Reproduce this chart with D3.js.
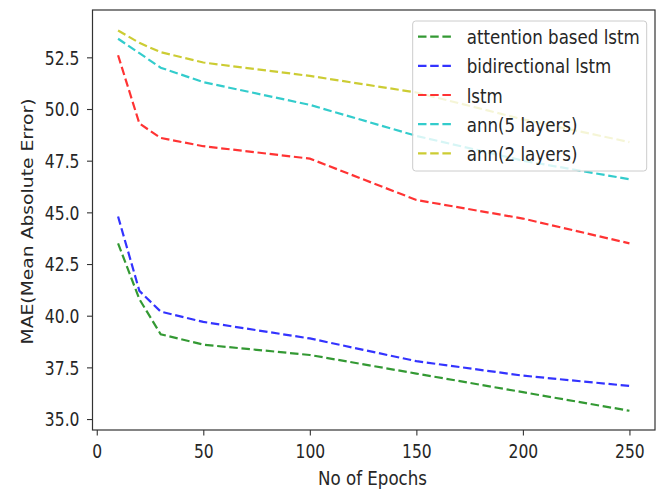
<!DOCTYPE html>
<html><head><meta charset="utf-8">
<script src="https://cdn.jsdelivr.net/npm/d3@7"></script>
<style>body{margin:0;background:#fff}svg{display:block}</style>
</head><body>
<svg id="c" width="665" height="489"></svg>
<script>
const epochs = [10, 20, 30, 50, 100, 150, 200, 250];
const attention = [43.5, 40.8, 39.1, 38.6, 38.1, 37.2, 36.3, 35.4];
const bidirectional = [44.8, 41.2, 40.2, 39.7, 38.9, 37.8, 37.1, 36.6];
const lstm = [52.6, 49.3, 48.6, 48.2, 47.6, 45.6, 44.7, 43.5];
const ann5 = [53.4, 52.7, 52.0, 51.3, 50.2, 48.7, 47.5, 46.6];
const ann2 = [53.8, 53.2, 52.75, 52.25, 51.6, 50.8, 49.5, 48.4];
const seriesNames = ["attention based lstm", "bidirectional lstm", "lstm", "ann(5 layers)", "ann(2 layers)"];
const seriesColors = ["#008000", "#0000ff", "#ff0000", "#00bfbf", "#bfbf00"];
const xTicks = [0, 50, 100, 150, 200, 250];
const yTicks = [35.0, 37.5, 40.0, 42.5, 45.0, 47.5, 50.0, 52.5];

const allSeries = [attention, bidirectional, lstm, ann5, ann2];
const L = 92.5, R = 655, T = 10, B = 430;
const svg = d3.select("#c");
const font = "DejaVu Sans, sans-serif";
const FS = 18.75, SX = 0.89, SXT = 0.83;
const textCol = "#262626";

const x = d3.scaleLinear().domain([-2, 262]).range([L, R]);
const y = d3.scaleLinear().domain([34.47, 54.79]).range([B, T]);

const line = d3.line().x((d, i) => x(epochs[i])).y(d => y(d));
allSeries.forEach((s, k) => {
  svg.append("path").attr("d", line(s)).attr("fill", "none")
    .attr("stroke", seriesColors[k]).attr("stroke-opacity", 0.8)
    .attr("stroke-width", 2.2).attr("stroke-dasharray", "8.5,3.7");
});

const xa = svg.append("g").attr("transform", `translate(0,${B})`)
  .call(d3.axisBottom(x).tickValues(xTicks).tickSize(5.5).tickFormat(d3.format("d")));
const ya = svg.append("g").attr("transform", `translate(${L},0)`)
  .call(d3.axisLeft(y).tickValues(yTicks).tickSize(5.5).tickFormat(d3.format(".1f")));
[xa, ya].forEach(a => {
  a.select(".domain").remove();
  a.selectAll("text").attr("font-family", font).attr("font-size", FS).attr("fill", textCol)
    .attr("transform", `scale(${SXT},1)`);
  a.selectAll("line").attr("stroke", "#333").attr("stroke-width", 1.1);
});
xa.selectAll("text").attr("y", 28).attr("dy", 0).attr("x", 0);
ya.selectAll("text").attr("x", -13 / SXT).attr("dy", "0.36em");

svg.append("rect").attr("x", L).attr("y", T).attr("width", R - L).attr("height", B - T)
  .attr("fill", "none").attr("stroke", "#333").attr("stroke-width", 1.2);

svg.append("text").attr("transform", `translate(372.5,484.5) scale(${SX},1)`).attr("text-anchor", "middle")
  .attr("font-family", font).attr("font-size", FS).attr("fill", textCol).text("No of Epochs");
svg.append("text").attr("transform", `translate(32.5,221.5) rotate(-90) scale(1,${SX})`).attr("text-anchor", "middle")
  .attr("font-family", font).attr("font-size", FS).attr("fill", textCol).text("MAE(Mean Absolute Error)");

const lg = svg.append("g");
lg.append("rect").attr("x", 412.7).attr("y", 21).attr("width", 234).attr("height", 150).attr("rx", 3)
  .attr("fill", "#fff").attr("fill-opacity", 0.8).attr("stroke", "#ccc").attr("stroke-width", 1);
seriesNames.forEach((n, k) => {
  const yy = 36.7 + k * 29.15;
  lg.append("line").attr("x1", 418).attr("x2", 453).attr("y1", yy).attr("y2", yy)
    .attr("stroke", seriesColors[k]).attr("stroke-opacity", 0.8).attr("stroke-width", 2.2)
    .attr("stroke-dasharray", "8.5,3.7");
  lg.append("text").attr("transform", `translate(466.7,${yy + 7.5}) scale(${SX},1)`)
    .attr("font-family", font).attr("font-size", FS).attr("fill", textCol).text(n);
});
</script>
</body></html>
